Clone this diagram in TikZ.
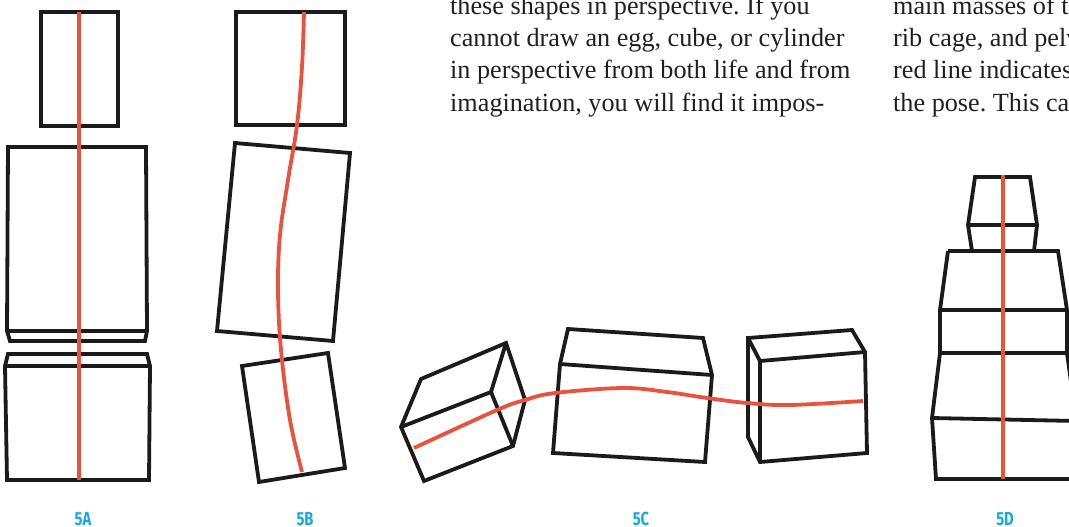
\documentclass[tikz,border=0pt]{standalone}
\usepackage{fontspec}
\setmainfont{Liberation Serif}
\newfontfamily\capfont[FakeStretch=0.78]{Fira Sans}
\definecolor{ink}{RGB}{28,26,27}
\definecolor{spine}{RGB}{232,82,62}
\definecolor{caption}{RGB}{20,170,228}
\definecolor{prosecol}{RGB}{35,31,32}
\frenchspacing

\begin{document}
\begin{tikzpicture}[x=1pt,y=-1pt,
  block/.style={draw=ink,line width=3.8pt,line join=miter},
  spineline/.style={draw=spine,line width=3.8pt},
  prose/.style={anchor=base west,inner sep=0pt,text=prosecol,
    font=\fontsize{26.2}{32}\selectfont},
  figlabel/.style={anchor=base,inner sep=0pt,text=caption,
    font=\capfont\bfseries\fontsize{18.9}{20}\selectfont}]

\useasboundingbox (0,0) rectangle (1069,527);
\begin{scope}
\clip (0,0) rectangle (1069,527);

% ---- running text (two columns, the second running off the page) ----
\node[prose] (c1l1) at (450,15) {these shapes in perspective. If you};
\node[prose] (c1l2) at (450,47) {cannot draw an egg, cube, or cylinder};
\node[prose] (c1l3) at (450,79) {in perspective from both life and from};
\node[prose] (c1l4) at (450,111) {imagination, you will find it impos-};
\node[prose] (c2l1) at (893,15) {main masses of the};
\node[prose] (c2l2) at (893,47) {rib cage, and pelvis};
\node[prose] (c2l3) at (893,79) {red line indicates};
\node[prose] (c2l4) at (893,111) {the pose. This can};

% ---- 5A: stacked straight blocks ----
\draw[block] (41,12) rectangle (118,126);
\draw[block] (8,147) -- (146,147) -- (147,331) -- (145,341) -- (10,341) -- (7,331) -- cycle;
\draw[block] (7,331) -- (147,331);
\draw[block] (8,354) -- (147,354) -- (150,366) -- (149,480) -- (7,480) -- (5,366) -- cycle;
\draw[block] (5,366) -- (150,366);
\draw[spineline] (79,12) -- (79,480);

% ---- 5B: tilted blocks ----
\draw[block] (236,12) rectangle (345,125);
\draw[block] (235,143) -- (350,153) -- (333,341) -- (217,331) -- cycle;
\draw[block] (242,366) -- (328,353) -- (345,468) -- (259,482) -- cycle;
\draw[spineline] plot[smooth,tension=0.6] coordinates
  {(304,12) (302,67) (297,125) (288,180) (280,235) (278,290) (281,350) (290,420) (302,472)};

% ---- 5C: boxes in perspective ----
% left cube
\draw[block] (421,379) -- (506,343) -- (525,400) -- (513,446) -- (424,481) -- (401,427) -- cycle;
\draw[block] (401,427) -- (491,392) -- (506,343);
\draw[block] (491,392) -- (513,446);
% middle box
\draw[block] (568,329) -- (703,338) -- (712,375) -- (705,462) -- (553,453) -- (560,364) -- cycle;
\draw[block] (560,364) -- (712,375);
% right cube
\draw[block] (748,338) -- (852,330) -- (865,352) -- (867,453) -- (760,462) -- (748,437) -- cycle;
\draw[block] (748,338) -- (760,361) -- (865,352);
\draw[block] (760,361) -- (760,462);
\draw[spineline] plot[smooth,tension=0.6] coordinates
  {(414,448) (497,410) (525,400) (555,393) (623,388) (667,392) (707,398) (747,403) (790,405) (863,401)};

% ---- 5D: tapering stack ----
\draw[block] (975,177) -- (1030,177) -- (1037,225) -- (1034,251) -- (972,251) -- (968,225) -- cycle;
\draw[block] (968,225) -- (1037,225);
\draw[block] (948,251) -- (1058,251) -- (1067,310) -- (1067,353) -- (1076,418);
\draw[block] (948,251) -- (940,310) -- (940,353) -- (932,418) -- (936,479) -- (1076,479);
\draw[block] (940,310) -- (1067,310);
\draw[block] (940,353) -- (1076,353);
\draw[block] (932,418) -- (1076,421);
\draw[spineline] (1003,175) -- (1003,479);
\end{scope}

% ---- figure labels ----
\node[figlabel] (lab5A) at (83,525) {5A};
\node[figlabel] (lab5B) at (305,525) {5B};
\node[figlabel] (lab5C) at (641,525) {5C};
\node[figlabel] (lab5D) at (1005,525) {5D};
\end{tikzpicture}
\end{document}
